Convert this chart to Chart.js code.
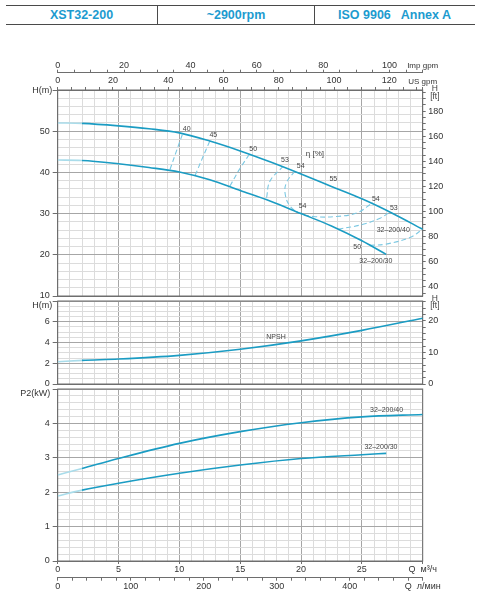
<!DOCTYPE html>
<html>
<head>
<meta charset="utf-8">
<script src="https://cdn.jsdelivr.net/npm/chart.js@4.4.1/dist/chart.umd.min.js"></script>
<style>
  html, body { margin: 0; padding: 0; background: #fff; }
  body { width: 479px; height: 600px; position: relative; overflow: hidden; font-family: "Liberation Sans", Arial, sans-serif; }
  .head { position: absolute; left: 6px; top: 5px; width: 469px; height: 18px; border-top: 1.5px solid #4a4a4a; border-bottom: 1.5px solid #4a4a4a; display: flex; }
  .head div { text-align: center; color: #1d9bcf; font-weight: bold; font-size: 12.5px; line-height: 18px; white-space: pre; }
  .head div + div { border-left: 1.5px solid #4a4a4a; }
  canvas { position: absolute; left: 0; top: 0; }
</style>
</head>
<body>
<div class="head">
  <div style="width:151px">XST32-200</div>
  <div style="width:156px">~2900rpm</div>
  <div style="width:159px">ISO 9906   Annex A</div>
</div>
<canvas id="head" width="479" height="600"></canvas>
<canvas id="npsh" width="479" height="600"></canvas>
<canvas id="power" width="479" height="600"></canvas>
<script>
// unit conversions from m3/h and m
const FT = 3.28084, US = 4.40287, IMP = 3.66615, LMIN_MAX = 500;

// head curves, Q in m3/h, H in m
const qHead40 = [0, 2, 5, 7.5, 10, 12.5, 15, 17.5, 20, 22.5, 25, 27.5, 30];
const hHead40 = [52.0, 51.9, 51.3, 50.6, 49.6, 47.6, 45.2, 42.5, 39.6, 36.6, 33.6, 30.1, 26.2];
const qHead30 = [0, 2, 5, 7.5, 10, 12.5, 15, 17.5, 20, 22.5, 25, 27];
const hHead30 = [43.0, 42.9, 42.1, 41.2, 40.1, 38.2, 35.6, 33.0, 30.0, 27.0, 23.4, 20.1];

// efficiency lines [Q, H]
const eta40 = [[9.23, 40.7], [9.75, 45.1], [10.27, 49.4]];
const eta45 = [[11.3, 39.3], [11.9, 43.5], [12.5, 47.6]];
const eta50a = [[14.16, 36.7], [14.95, 40.8], [15.8, 44.6]];
const eta53a = [[17.17, 33.9], [17.45, 37.9], [18.5, 41.4]];
const eta54 = [[19.5, 40.3], [18.8, 37.5], [18.7, 34.7], [19.1, 31.8], [19.9, 30.1], [21.0, 29.3], [22.9, 29.3], [24.6, 30.2], [25.9, 32.7]];
const eta53b = [[23.06, 26.2], [25.1, 27.4], [26.5, 28.9], [27.3, 30.4]];
const eta50b = [[25.66, 22.3], [27.0, 22.6], [28.95, 24.2], [30, 26.2]];

// NPSH, m
const qNpsh = [0, 2, 5, 10, 15, 20, 25, 30];
const hNpsh = [2.15, 2.28, 2.41, 2.76, 3.35, 4.16, 5.17, 6.34];

// power P2, kW
const qP40 = [0, 2, 5, 10, 15, 20, 25, 30];
const p40 = [2.50, 2.69, 2.98, 3.42, 3.76, 4.02, 4.19, 4.26];
const qP30 = [0, 2, 5, 10, 15, 20, 25, 27];
const p30 = [1.89, 2.06, 2.26, 2.55, 2.79, 2.98, 3.09, 3.13];

// tick labels
const qLabels = [0, 5, 10, 15, 20, 25];
const lminLabels = [0, 100, 200, 300, 400];
const usLabels = [0, 20, 40, 60, 80, 100, 120];
const impLabels = [0, 20, 40, 60, 80, 100];
const headLabels = [10, 20, 30, 40, 50];
const headFtLabels = [40, 60, 80, 100, 120, 140, 160, 180];
const npshLabels = [0, 2, 4, 6];
const npshFtLabels = [0, 10, 20];
const powerLabels = [0, 1, 2, 3, 4];

// text on the plots [text, Q, value, size]
const headNotes = [
  ['40', 10.6, 50.4], ['45', 12.79, 48.96], ['50', 16.07, 45.7], ['53', 18.68, 43.0],
  ['54', 19.97, 41.5], ['η [%]', 21.14, 44.4, 8], ['55', 22.65, 38.3], ['54', 20.13, 31.8],
  ['54', 26.15, 33.6], ['53', 27.63, 31.3], ['32–200/40', 27.58, 26.0], ['50', 24.62, 21.8],
  ['32–200/30', 26.15, 18.4], ['H', 31.0, 60.4, 8.5], ['[ft]', 31.0, 58.4, 8.5],
  ['H(m)', -1.27, 59.85, 9]
];
const npshNotes = [['NPSH', 17.94, 4.5], ['H', 31.0, 8.2, 8.5], ['[ft]', 31.0, 7.55, 8.5], ['H(m)', -1.27, 7.6, 9]];
const powerNotes = [['32–200/40', 27.03, 4.39], ['32–200/30', 26.57, 3.30], ['P2(kW)', -1.84, 4.87, 9]];

const MAIN = '#1b9cc3', FAINT = '#a9dcea', ETA = '#7cc8e2';
const FRAME = '#6e6e6e', MAJOR = '#a6a6a6', MINOR = '#dcdcdc', TXT = '#333';

Chart.defaults.font.family = '"Liberation Sans", Arial, sans-serif';
Chart.defaults.font.size = 9;
Chart.defaults.color = TXT;

const near = (v, list) => list.some(t => Math.abs(t - v) < 1e-6);
const pts = (q, v) => q.map((x, i) => ({ x: x, y: v[i] }));
const pairs = a => a.map(p => ({ x: p[0], y: p[1] }));
const steps = (a, b, d) => { const out = []; for (let v = a; v <= b + 1e-9; v += d) out.push({ value: Math.round(v * 1000) / 1000 }); return out; };
const fit = (size, horiz) => s => {
  if (horiz) s.height = size; else s.width = size;
  s.paddingLeft = s.paddingRight = s.paddingTop = s.paddingBottom = 0;
};
const tickFont = { size: 9, lineHeight: 1 };

function mainLine(data) {
  return {
    data: data, xAxisID: 'x', yAxisID: 'y', borderColor: MAIN, borderWidth: 1.6, pointRadius: 0,
    cubicInterpolationMode: 'monotone',
    segment: { borderColor: c => c.p1.parsed.x <= 2.01 ? FAINT : MAIN }
  };
}
function etaLine(a) {
  return { data: pairs(a), xAxisID: 'x', yAxisID: 'y', borderColor: ETA, borderWidth: 1.1, borderDash: [5, 3], pointRadius: 0, tension: 0.4 };
}

function qAxis(labels) {
  return {
    type: 'linear', position: 'bottom', min: 0, max: 30,
    ticks: {
      display: labels, stepSize: 1, autoSkip: false, maxRotation: 0, padding: 1, font: tickFont,
      callback: v => v === 30 ? 'Q  м³/ч' : (near(v, qLabels) ? v : '')
    },
    grid: {
      color: c => c.tick && c.tick.value % 5 === 0 ? MAJOR : MINOR,
      drawTicks: labels, tickLength: 3,
      tickColor: c => c.tick && c.tick.value % 5 === 0 ? FRAME : 'rgba(0,0,0,0)'
    },
    border: { color: FRAME },
    afterFit: fit(labels ? 16.7 : 0, true)
  };
}

function leftAxis(min, max, step, majorStep, labels) {
  return {
    position: 'left', min: min, max: max,
    ticks: {
      stepSize: step, autoSkip: false, padding: 3, font: tickFont,
      callback: v => near(v, labels) ? Math.round(v) : ''
    },
    grid: {
      color: c => c.tick && Math.abs(c.tick.value / majorStep - Math.round(c.tick.value / majorStep)) < 1e-6 ? MAJOR : MINOR,
      tickLength: 5,
      tickColor: c => c.tick && (near(c.tick.value, labels) || Math.abs(c.tick.value - max) < 1e-6) ? FRAME : 'rgba(0,0,0,0)'
    },
    border: { color: FRAME },
    afterFit: fit(57.7, false)
  };
}

function ftAxis(min, max, from, to, step, labels) {
  return {
    position: 'right', min: min, max: max,
    afterBuildTicks: s => { s.ticks = steps(from, to, step); },
    ticks: { autoSkip: false, padding: 2.5, font: tickFont, callback: v => near(v, labels) ? Math.round(v) : '' },
    grid: { drawOnChartArea: false, tickLength: 3, color: FRAME },
    border: { color: FRAME },
    afterFit: fit(479 - 422.7, false)
  };
}

function topAxis(max, last, labels, unit, weight, height, pad) {
  return {
    type: 'linear', position: 'top', min: 0, max: max, weight: weight,
    afterBuildTicks: s => { s.ticks = steps(0, last, 5).concat([{ value: max }]); },
    ticks: {
      autoSkip: false, maxRotation: 0, padding: pad,
      font: c => (c.tick && c.tick.value === max) ? { size: 8, lineHeight: 1 } : tickFont,
      callback: v => v === max ? unit : (near(v, labels) ? v : '')
    },
    grid: { drawOnChartArea: false, tickLength: 3, color: FRAME },
    border: { color: FRAME },
    afterFit: fit(height, true)
  };
}

const frame = {
  id: 'frame',
  beforeDatasetsDraw(chart) {
    const a = chart.chartArea, ctx = chart.ctx;
    ctx.save();
    ctx.strokeStyle = FRAME; ctx.lineWidth = 1;
    ctx.strokeRect(a.left, a.top, a.right - a.left, a.bottom - a.top);
    ctx.restore();
  }
};
const notes = {
  id: 'notes',
  afterDatasetsDraw(chart, args, opts) {
    const ctx = chart.ctx, sx = chart.scales.x, sy = chart.scales.y;
    ctx.save();
    ctx.textAlign = 'center'; ctx.textBaseline = 'middle';
    (opts.items || []).forEach(n => {
      ctx.fillStyle = n[3] >= 9 ? TXT : '#444';
      ctx.font = (n[3] || 7) + 'px "Liberation Sans", Arial, sans-serif';
      ctx.fillText(n[0], sx.getPixelForValue(n[1]), sy.getPixelForValue(n[2]));
    });
    ctx.restore();
  }
};

function base(padding, items) {
  return {
    responsive: false, animation: false,
    layout: { padding: padding },
    plugins: { legend: { display: false }, tooltip: { enabled: false }, notes: { items: items } }
  };
}

// head chart
new Chart(document.getElementById('head'), {
  type: 'line',
  data: {
    datasets: [
      mainLine(pts(qHead40, hHead40)), mainLine(pts(qHead30, hHead30)),
      etaLine(eta40), etaLine(eta45), etaLine(eta50a), etaLine(eta53a),
      etaLine(eta54), etaLine(eta53b), etaLine(eta50b)
    ]
  },
  options: Object.assign(base({ top: 55, bottom: 304, left: 0, right: 0 }, headNotes), {
    scales: {
      x: qAxis(false),
      us: topAxis(30 * US, 130, usLabels, 'US gpm', 0, 17.3, 1.5),
      imp: topAxis(30 * IMP, 105, impLabels, 'Imp gpm', 1, 17.7, 0),
      y: leftAxis(10, 60, 2, 10, headLabels),
      yft: ftAxis(10 * FT, 60 * FT, 35, 195, 5, headFtLabels)
    }
  }),
  plugins: [frame, notes]
});

// NPSH chart
new Chart(document.getElementById('npsh'), {
  type: 'line',
  data: { datasets: [mainLine(pts(qNpsh, hNpsh))] },
  options: Object.assign(base({ top: 301, bottom: 216, left: 0, right: 0 }, npshNotes), {
    scales: {
      x: qAxis(false),
      y: leftAxis(0, 8, 0.5, 2, npshLabels),
      yft: ftAxis(0, 8 * FT, 0, 26, 2, npshFtLabels)
    }
  }),
  plugins: [frame, notes]
});

// power chart
new Chart(document.getElementById('power'), {
  type: 'line',
  data: { datasets: [mainLine(pts(qP40, p40)), mainLine(pts(qP30, p30))] },
  options: Object.assign(base({ top: 389, bottom: 5, left: 0, right: 479 - 422.7 }, powerNotes), {
    scales: {
      x: qAxis(true),
      lmin: {
        type: 'linear', position: 'bottom', min: 0, max: LMIN_MAX, weight: 1,
        afterBuildTicks: s => { s.ticks = steps(0, LMIN_MAX, 20); },
        ticks: {
          autoSkip: false, maxRotation: 0, padding: 1, font: tickFont,
          callback: v => v === LMIN_MAX ? 'Q  л/мин' : (near(v, lminLabels) ? v : '')
        },
        grid: { drawOnChartArea: false, tickLength: 3, color: FRAME },
        border: { color: FRAME },
        afterFit: fit(17.3, true)
      },
      y: leftAxis(0, 5, 0.2, 1, powerLabels)
    }
  }),
  plugins: [frame, notes]
});
</script>
</body>
</html>
